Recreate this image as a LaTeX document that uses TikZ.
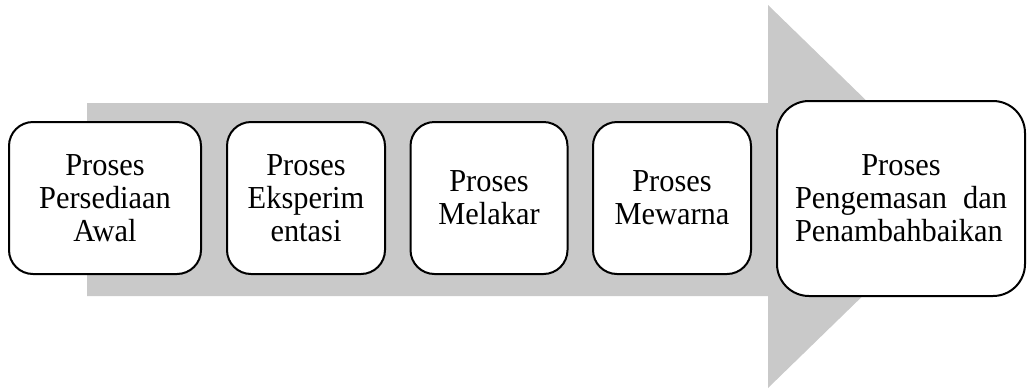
\documentclass[tikz,border=0pt]{standalone}
\usepackage{fontspec}
\setmainfont[FakeStretch=0.95]{Liberation Serif}
\definecolor{arrowgray}{RGB}{201,201,201}
\tikzset{
  procbox/.style={draw=black, line width=2pt, fill=white, rounded corners=24pt,
    align=center, inner sep=0pt, font=\fontsize{32}{33}\selectfont},
}
\begin{document}
\begin{tikzpicture}[x=1pt,y=-1pt]
\useasboundingbox (0,0) rectangle (1028,389);
\fill[arrowgray] (87,103) -- (768,103) -- (768,5) -- (965,196.5) -- (768,388) -- (768,296) -- (87,296) -- cycle;
\node[procbox, minimum width=192pt, minimum height=152pt] (b1) at (105,198) {Proses\\Persediaan\\Awal};
\node[procbox, minimum width=158pt, minimum height=152pt] (b2) at (306,198) {Proses\\Eksperim\\entasi};
\node[procbox, minimum width=157pt, minimum height=152pt] (b3) at (489,198) {Proses\\Melakar};
\node[procbox, minimum width=158pt, minimum height=152pt] (b4) at (672,198) {Proses\\Mewarna};
\node[procbox, rounded corners=32pt, minimum width=248pt, minimum height=195pt] (b5) at (901,198.5)
  {Proses\\\makebox[212pt][s]{Pengemasan dan}\\\makebox[212pt][s]{Penambahbaikan}};
\end{tikzpicture}
\end{document}
